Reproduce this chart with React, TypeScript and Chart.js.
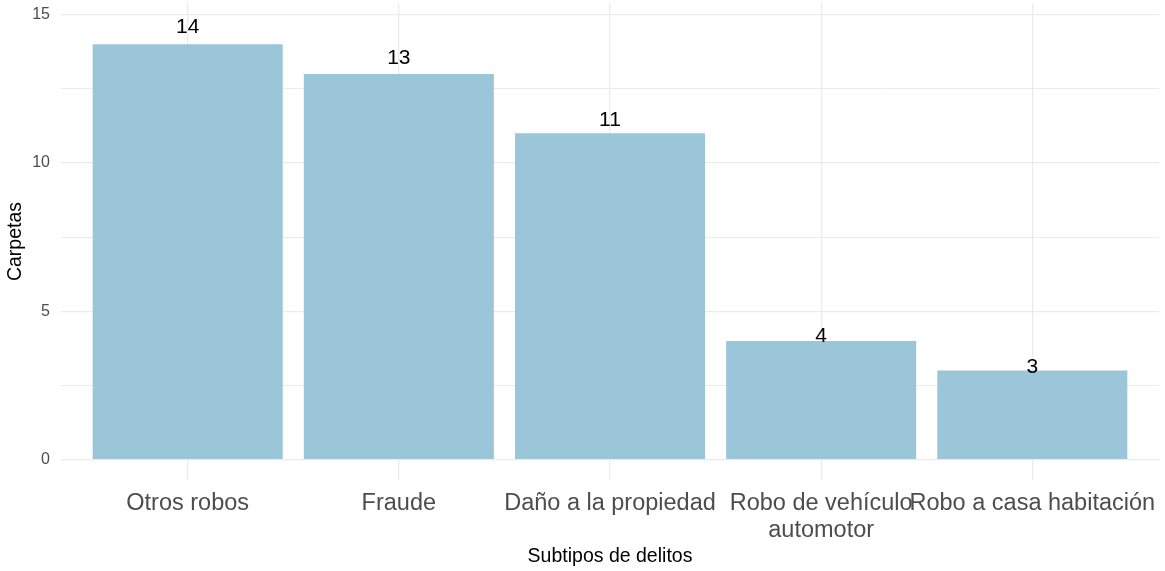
import React, { useEffect, useRef } from "react";
import { Chart, registerables } from "chart.js";

Chart.register(...registerables);

const categories: (string | string[])[] = [
  "Otros robos",
  "Fraude",
  "Daño a la propiedad",
  ["Robo de vehículo", "automotor"],
  "Robo a casa habitación",
];
const values = [14, 13, 11, 4, 3];
const yTicks = [0, 2.5, 5, 7.5, 10, 12.5, 15];
const yLabeledTicks = [0, 5, 10, 15];

const FONT = "'Liberation Sans', Arial, Helvetica, sans-serif";

const valueLabels = {
  id: "valueLabels",
  afterDatasetsDraw(chart: any) {
    const ctx = chart.ctx;
    const yScale = chart.scales.y;
    const meta = chart.getDatasetMeta(0);
    ctx.save();
    ctx.font = `21px ${FONT}`;
    ctx.fillStyle = "#000000";
    ctx.textAlign = "center";
    ctx.textBaseline = "middle";
    meta.data.forEach((bar: any, i: number) => {
      const v = values[i];
      ctx.fillText(String(v), bar.x, yScale.getPixelForValue(v * 1.04));
    });
    ctx.restore();
  },
};

export default function App() {
  const ref = useRef<HTMLCanvasElement>(null);
  useEffect(() => {
    if (!ref.current) return;
    const chart = new Chart(ref.current, {
      type: "bar",
      data: {
        datasets: [
          {
            data: values.map((v, i) => ({ x: i, y: v })),
            backgroundColor: "#9BC5D8",
            borderWidth: 0,
            barPercentage: 0.9,
            categoryPercentage: 1,
          },
        ],
      },
      options: {
        animation: false,
        responsive: false,
        layout: { padding: { left: 0, right: 6, top: 3, bottom: 0 } },
        plugins: { legend: { display: false }, tooltip: { enabled: false } },
        scales: {
          x: {
            type: "linear",
            min: -0.6,
            max: 4.6,
            offset: false,
            grid: {
              offset: false,
              color: "#ebebeb",
              lineWidth: 1.3,
              drawTicks: false,
            },
            border: { display: false },
            afterBuildTicks: (scale: any) => {
              scale.ticks = categories.map((_, i) => ({ value: i }));
            },
            afterFit: (scale: any) => {
              scale.height = 91;
              scale.paddingLeft = 0;
              scale.paddingRight = 0;
            },
            ticks: {
              autoSkip: false,
              maxRotation: 0,
              minRotation: 0,
              padding: 10,
              color: "#4d4d4d",
              font: { family: FONT, size: 23.5, lineHeight: 1.15 },
              callback: (value: any) => categories[value as number],
            },
            title: {
              display: true,
              text: "Subtipos de delitos",
              color: "#000000",
              font: { family: FONT, size: 19.5 },
              padding: { top: 0, bottom: 3 },
            },
          },
          y: {
            type: "linear",
            min: -0.69,
            max: 15.39,
            grid: {
              color: "#ebebeb",
              lineWidth: (c: any) =>
                yLabeledTicks.includes(c.tick?.value) ? 1.3 : 1,
              drawTicks: false,
            },
            border: { display: false },
            afterBuildTicks: (scale: any) => {
              scale.ticks = yTicks.map((v) => ({ value: v }));
            },
            afterFit: (scale: any) => {
              scale.width = 61;
              scale.paddingTop = 0;
              scale.paddingBottom = 0;
            },
            ticks: {
              padding: 11,
              color: "#4d4d4d",
              font: { family: FONT, size: 16 },
              callback: (value: any) =>
                yLabeledTicks.includes(value) ? String(value) : "",
            },
            title: {
              display: true,
              text: "Carpetas",
              color: "#000000",
              font: { family: FONT, size: 19.5 },
              padding: { top: 4, bottom: 0 },
            },
          },
        },
      },
      plugins: [valueLabels],
    });
    return () => chart.destroy();
  }, []);
  return (
    <div style={{ position: "fixed", left: 0, top: 0, width: 1165, height: 571, background: "#ffffff" }}>
      <canvas ref={ref} width={1165} height={571} style={{ display: "block" }} />
    </div>
  );
}
